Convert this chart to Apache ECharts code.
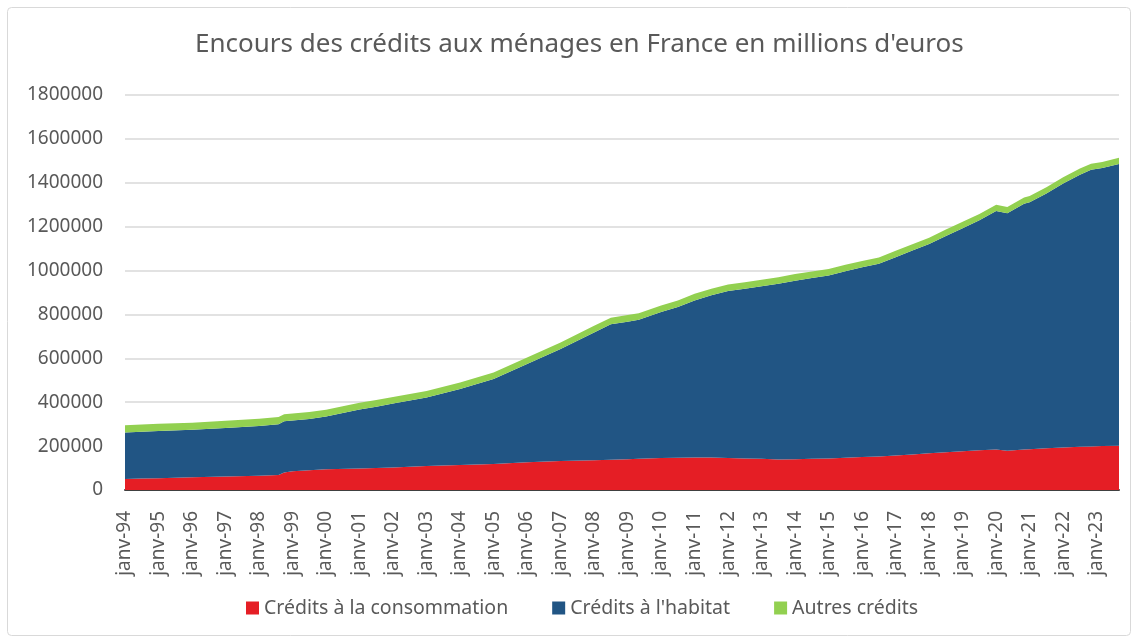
<!DOCTYPE html>
<html>
<head>
<meta charset="utf-8">
<script src="https://cdn.jsdelivr.net/npm/echarts@6/dist/echarts.min.js"></script>
<style>
html,body{margin:0;padding:0;background:#fff;}
#chart{width:1138px;height:643px;}
</style>
</head>
<body>
<div id="chart"></div>
<script>
// Month index from janv-94 (0 = janvier 1994); values read at these months
const months = [0, 6, 12, 24, 36, 48, 55, 57, 60, 66, 72, 84, 90, 96, 108, 120, 132, 144, 156, 168, 174, 180, 184, 192, 198, 204, 210, 216, 222, 228, 234, 240, 246, 252, 258, 264, 270, 276, 282, 288, 294, 300, 306, 312, 316, 322, 324, 330, 336, 342, 346, 350, 356];
const consommation = [50000, 52000, 54000, 58000, 61000, 65000, 68000, 80000, 85000, 90000, 94000, 98000, 100000, 103000, 109000, 114000, 118000, 126000, 132000, 136000, 138000, 140000, 142000, 146000, 147000, 148000, 148000, 146000, 143000, 142000, 139000, 140000, 142000, 144000, 147000, 150000, 153000, 157000, 162000, 167000, 172000, 177000, 181000, 185000, 179000, 184000, 186000, 190000, 194000, 197000, 198000, 200000, 202000];
const habitat = [212000, 213000, 215000, 216000, 222000, 227000, 232000, 233000, 232000, 234000, 241000, 269000, 279000, 291000, 312000, 346000, 388000, 448000, 510000, 582000, 617000, 627000, 634000, 665000, 687000, 716000, 739000, 761000, 774000, 786000, 801000, 814000, 824000, 833000, 850000, 865000, 878000, 904000, 929000, 954000, 986000, 1016000, 1048000, 1086000, 1082000, 1120000, 1125000, 1161000, 1203000, 1240000, 1261000, 1267000, 1284000];
const autres = [33000, 33000, 33000, 33000, 33000, 33000, 33000, 32000, 32000, 32000, 31000, 31000, 31000, 30000, 30000, 30000, 30000, 30000, 30000, 30000, 30000, 30000, 30000, 30000, 30000, 30000, 30000, 30000, 30000, 30000, 30000, 30000, 30000, 30000, 30000, 29000, 29000, 29000, 29000, 29000, 29000, 29000, 29000, 29000, 29000, 29000, 29000, 29000, 28000, 28000, 28000, 28000, 28000];
const seriesNames = ["Crédits à la consommation", "Crédits à l'habitat", "Autres crédits"];
const startYear = 94;
const lastMonth = 356; // sept-23

// [value, monthIndex] rows: value first so that the library stacks the value dimension
function rows(vals) { return months.map((m, i) => [vals[i], m]); }

const FONT = "'Noto Sans', sans-serif";
const chart = echarts.init(document.getElementById('chart'), null, {renderer: 'canvas'});

const colors = ['#E51E25', '#215584', '#92D050'];
const dataSets = [consommation, habitat, autres];

chart.setOption({
  animation: false,
  backgroundColor: '#ffffff',
  graphic: [{
    type: 'rect',
    shape: {x: 7.5, y: 7.5, width: 1123, height: 628, r: 4},
    style: {fill: 'none', stroke: '#D9D9D9', lineWidth: 1}
  }],
  title: {
    text: "Encours des crédits aux ménages en France en millions d'euros",
    left: 195,
    top: 32,
    padding: 0,
    textStyle: {fontFamily: FONT, fontSize: 26, fontWeight: 'normal', color: '#595959'}
  },
  legend: {
    data: seriesNames,
    left: 246,
    top: 598,
    padding: 0,
    icon: 'rect',
    itemWidth: 13,
    itemHeight: 13,
    itemGap: 44,
    textStyle: {fontFamily: FONT, fontSize: 19.5, color: '#595959'}
  },
  grid: {left: 125, right: 19, top: 95, bottom: 153, containLabel: false},
  xAxis: {
    type: 'value',
    min: 0,
    max: lastMonth,
    interval: 12,
    axisLine: {show: true, onZero: false, lineStyle: {color: '#404040', width: 2}},
    axisTick: {show: false},
    splitLine: {show: false},
    axisLabel: {
      rotate: 90,
      margin: 21,
      fontFamily: FONT,
      fontSize: 19,
      color: '#595959',
      showMaxLabel: false,
      formatter: function (v) {
        if (v % 12 !== 0 || v >= lastMonth) return '';
        const y = (startYear + v / 12) % 100;
        return 'janv-' + String(y).padStart(2, '0');
      }
    }
  },
  yAxis: {
    type: 'value',
    min: 0,
    max: 1800000,
    interval: 200000,
    axisLine: {show: false},
    axisTick: {show: false},
    splitLine: {lineStyle: {color: '#D9D9D9', width: 1.5}},
    axisLabel: {
      margin: 22,
      fontFamily: FONT,
      fontSize: 19,
      color: '#595959',
      formatter: function (v) { return String(v); }
    }
  },
  series: seriesNames.map((name, i) => ({
    name: name,
    type: 'line',
    stack: 'total',
    data: rows(dataSets[i]),
    encode: {x: 1, y: 0},
    showSymbol: false,
    symbol: 'none',
    lineStyle: {width: 0},
    areaStyle: {color: colors[i], opacity: 1},
    itemStyle: {color: colors[i]},
    z: 2
  }))
});
</script>
</body>
</html>
